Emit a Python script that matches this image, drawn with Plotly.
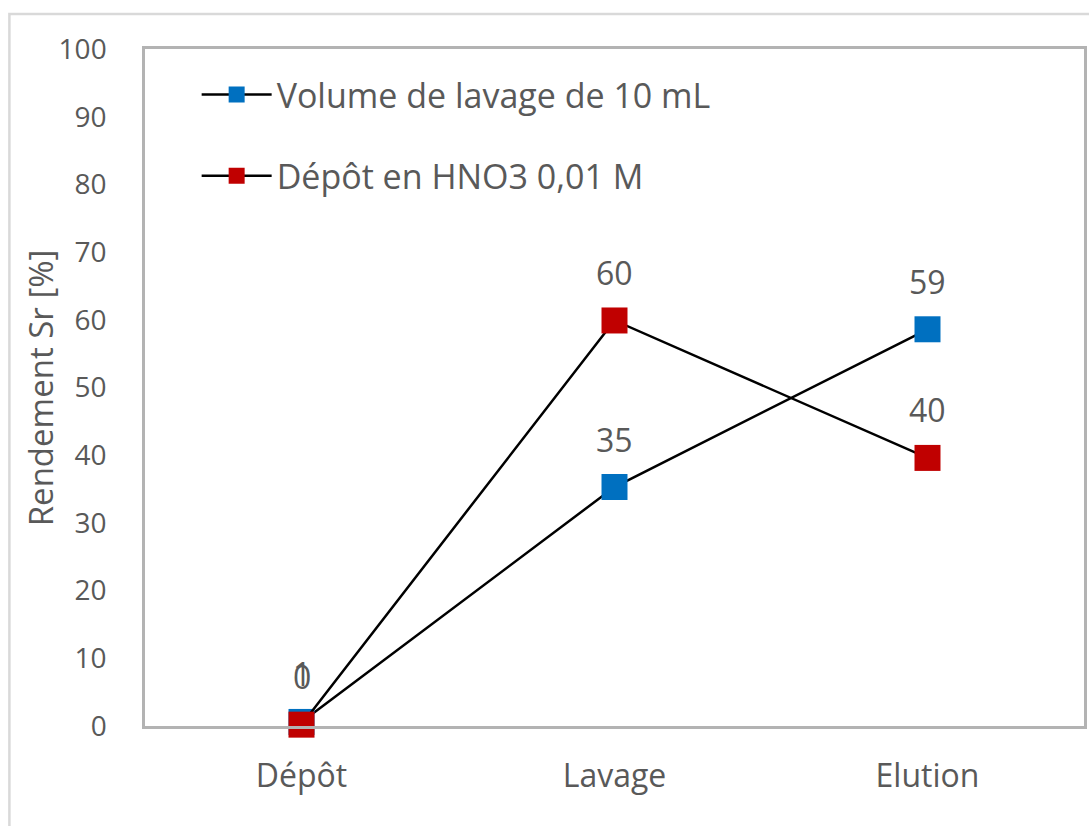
import plotly.graph_objects as go

# Étapes de la séparation et rendements en strontium (%)
etapes = ["Dépôt", "Lavage", "Elution"]
rendement_lavage_10ml = [0.6, 35.3, 58.6]
rendement_hno3_001m = [0.2, 59.9, 39.6]

nom_lavage = "Volume de lavage de 10 mL"
nom_hno3 = "Dépôt en HNO3 0,01 M"
titre_y = "Rendement Sr [%]"

bleu = "#0070c0"
rouge = "#c00000"
gris_texte = "#595959"
police = "Open Sans"

fig = go.Figure()

series = [
    (nom_lavage, rendement_lavage_10ml, bleu, "g1"),
    (nom_hno3, rendement_hno3_001m, rouge, "g2"),
]

for nom, valeurs, couleur, groupe in series:
    fig.add_trace(go.Scatter(
        x=etapes, y=valeurs, name=nom, mode="lines+markers",
        legendgroup=groupe,
        line=dict(color="black", width=2.5),
        marker=dict(symbol="square", size=26, color=couleur),
        cliponaxis=False,
    ))

# Étiquettes de valeur au-dessus de chaque point
for nom, valeurs, couleur, groupe in series:
    for etape, v in zip(etapes, valeurs):
        fig.add_annotation(
            x=etape, y=v, text=f"{v:.0f}", showarrow=False,
            yanchor="middle", yshift=48,
            font=dict(family=police, size=32, color=gris_texte),
        )

# Titre de l'axe vertical
fig.add_annotation(
    xref="paper", yref="paper", x=-0.111, y=0.5,
    text=titre_y, textangle=-90, showarrow=False,
    xanchor="center", yanchor="middle",
    font=dict(family=police, size=33, color=gris_texte),
)

# Cadre extérieur du graphique
fig.add_shape(
    type="rect", xref="paper", yref="paper",
    x0=-0.1444, x1=1.02, y0=-0.16, y1=1.0517,
    line=dict(color="#d9d9d9", width=2.5), fillcolor="rgba(0,0,0,0)",
    layer="below",
)

fig.update_layout(
    width=1089, height=826,
    margin=dict(l=145, r=2, t=49, b=100),
    paper_bgcolor="white", plot_bgcolor="white",
    font=dict(family=police, size=28, color=gris_texte),
    showlegend=True,
    legend=dict(
        x=0.055, y=0.975, xanchor="left", yanchor="top",
        bgcolor="rgba(0,0,0,0)", tracegroupgap=34, itemwidth=70,
        font=dict(family=police, size=34, color=gris_texte),
    ),
    xaxis=dict(
        range=[-0.5, 2.5], showgrid=False, zeroline=False,
        showline=True, mirror=True, linecolor="#b3b3b3", linewidth=2.5,
        ticks="", ticklabelstandoff=20,
        tickfont=dict(family=police, size=32, color=gris_texte),
    ),
    yaxis=dict(
        range=[0, 100], dtick=10, showgrid=False, zeroline=False,
        showline=True, mirror=True, linecolor="#b3b3b3", linewidth=2.5,
        ticks="", ticklabelstandoff=30,
        tickfont=dict(family=police, size=28, color=gris_texte),
    ),
)

fig.write_html("out.html")
